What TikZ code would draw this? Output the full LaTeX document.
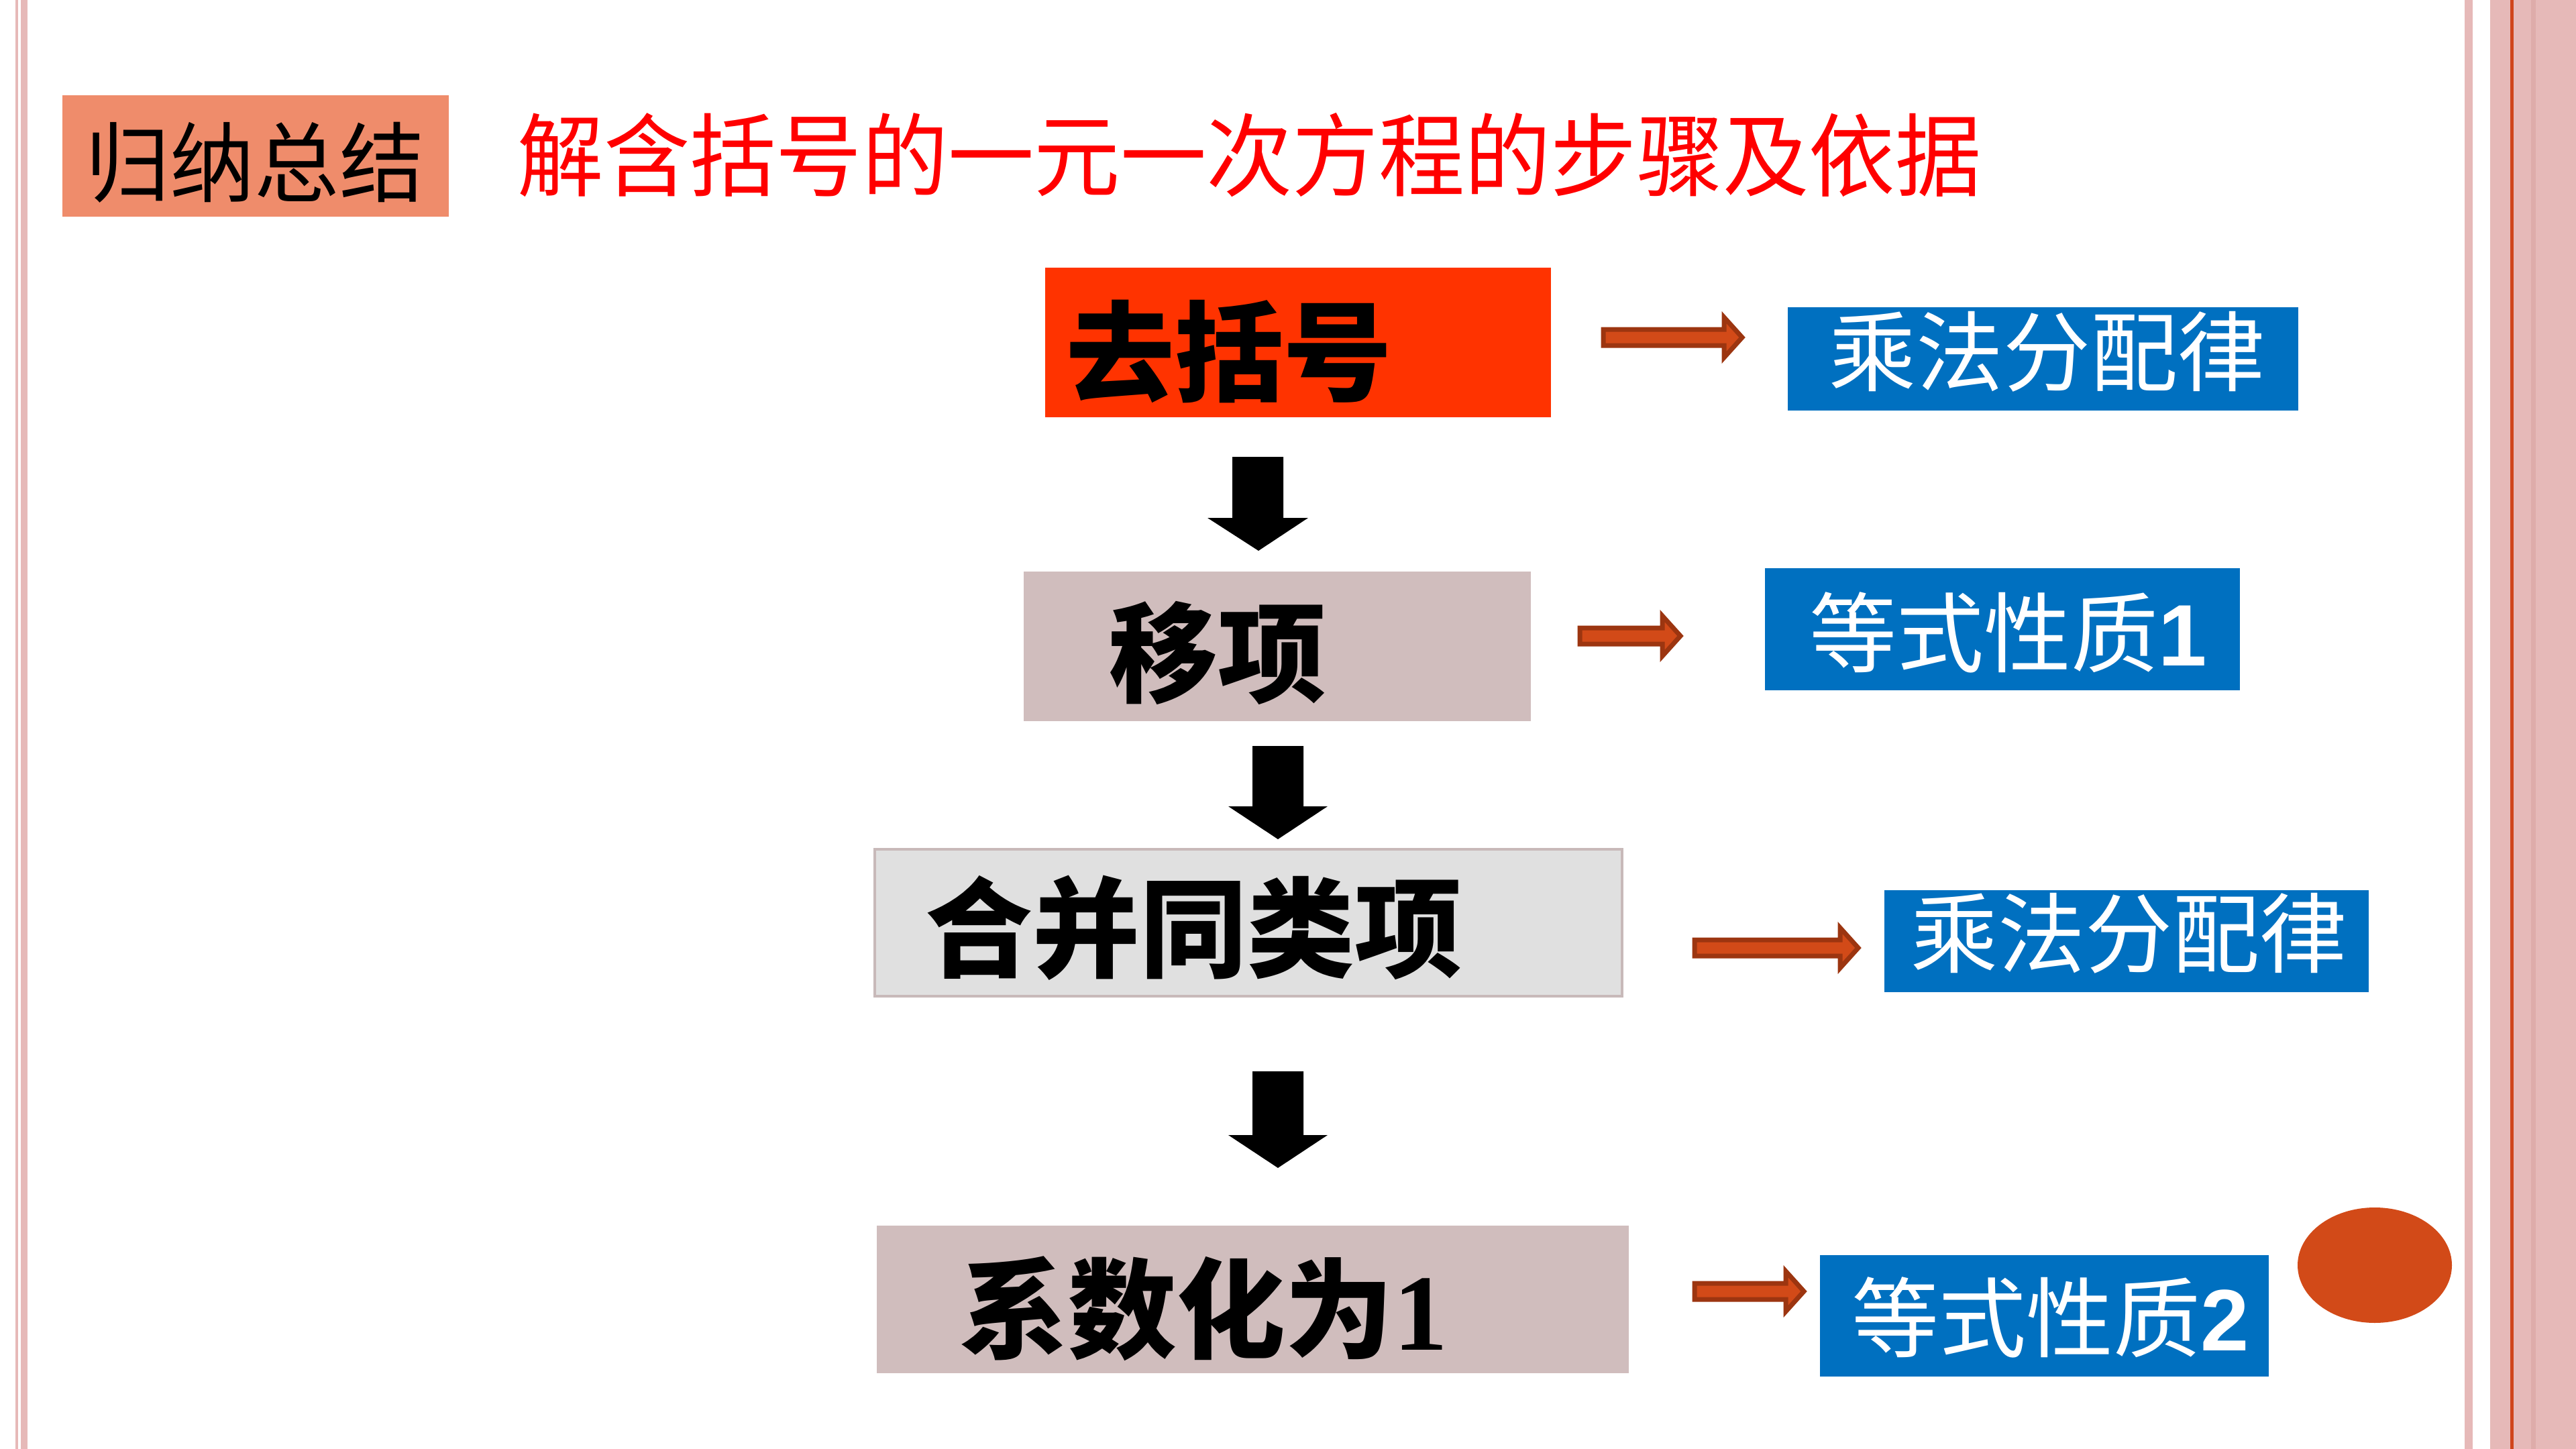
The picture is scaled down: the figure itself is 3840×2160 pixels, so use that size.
\documentclass[tikz,border=0pt]{standalone}
\usepackage{fontspec}
\usetikzlibrary{shapes.geometric}
\newfontfamily\cjk{Noto Sans CJK SC}
\newfontfamily\lsans{Liberation Sans}
\newfontfamily\lserif{Liberation Serif}
\definecolor{pinkb}{HTML}{E6B9B8}
\definecolor{pinkd}{HTML}{DEACAA}
\definecolor{redl}{HTML}{D0451B}
\definecolor{tagor}{HTML}{EF8C6B}
\definecolor{titlered}{HTML}{FF0000}
\definecolor{stepred}{HTML}{FF3300}
\definecolor{steprose}{HTML}{D0BDBD}
\definecolor{stepgray}{HTML}{E0E0E0}
\definecolor{stepgrayline}{HTML}{C8B9B9}
\definecolor{ruleblue}{HTML}{0070C0}
\definecolor{oarrowfill}{HTML}{D24A18}
\definecolor{oarrowline}{HTML}{9C3510}
\definecolor{dotc}{HTML}{D24A18}
\tikzset{
  boxnode/.style={rectangle, inner sep=0pt, outer sep=0pt},
  bigtext/.style={inner sep=0pt, anchor=west, font=\cjk\bfseries\fontsize{46}{46}\selectfont, text=black},
  ruletext/.style={inner sep=0pt, anchor=west, font=\cjk\fontsize{37}{37}\selectfont, text=white},
  oarrow/.style={fill=oarrowfill, draw=oarrowline, line width=0.7mm, miter limit=10},
  barrow/.style={fill=black}
}
\begin{document}
\begin{tikzpicture}[x=0.1mm,y=-0.1mm]
\useasboundingbox (0,0) rectangle (3840,2160);
\fill[white] (0,0) rectangle (3840,2160);
% page borders
\fill[pinkb] (23,0) rectangle (27,2160);
\fill[pinkb] (31,0) rectangle (41,2160);
\fill[pinkb] (3674,0) rectangle (3686,2160);
\fill[pinkb] (3712,0) rectangle (3840,2160);
\fill[pinkd] (3773,0) rectangle (3780,2160);
\fill[redl] (3742,0) rectangle (3747,2160);

% heading tag and title
\node[boxnode, fill=tagor, minimum width=57.6mm, minimum height=18.1mm] (tag) at (381,232.5) {};
\node[inner sep=0pt, anchor=west, xscale=0.97, font=\cjk\fontsize{37}{37}\selectfont] (tagtext) at (127,242) {归纳总结};
\node[inner sep=0pt, anchor=west, xscale=0.951, text=titlered, font=\cjk\fontsize{38.4}{38.4}\selectfont] (title) at (771,231) {解含括号的一元一次方程的步骤及依据};

% step boxes
\node[boxnode, fill=stepred, minimum width=75.4mm, minimum height=22.3mm] (b1) at (1935,510.5) {};
\node[bigtext] (t1) at (1589,524) {去括号};
\node[boxnode, fill=steprose, minimum width=75.6mm, minimum height=22.3mm] (b2) at (1904,963.5) {};
\node[bigtext] (t2) at (1653,973) {移项};
\node[boxnode, fill=stepgray, draw=stepgrayline, line width=0.4mm, minimum width=111.4mm, minimum height=21.9mm] (b3) at (1861,1375.5) {};
\node[bigtext, xscale=0.99] (t3) at (1379,1383) {合并同类项};
\node[boxnode, fill=steprose, minimum width=112.1mm, minimum height=22mm] (b4) at (1867.5,1937) {};
\node[bigtext] (t4) at (1430,1951) {系数化为{\lserif 1}};

% rule boxes
\node[boxnode, fill=ruleblue, minimum width=76.1mm, minimum height=15.4mm] (r1) at (3045.5,535) {};
\node[ruletext] (rt1) at (2726,524) {乘法分配律};
\node[boxnode, fill=ruleblue, minimum width=70.8mm, minimum height=18.2mm] (r2) at (2985,938) {};
\node[ruletext] (rt2) at (2697,943) {等式性质{\lsans\bfseries 1}};
\node[boxnode, fill=ruleblue, minimum width=72.2mm, minimum height=15.2mm] (r3) at (3170,1403) {};
\node[ruletext] (rt3) at (2848,1391) {乘法分配律};
\node[boxnode, fill=ruleblue, minimum width=66.9mm, minimum height=18.1mm] (r4) at (3047.5,1961.5) {};
\node[ruletext] (rt4) at (2760,1964) {等式性质{\lsans\bfseries 2}};

% black down arrows
\fill[barrow] (1837,681) -- (1913,681) -- (1913,772) -- (1950,772) -- (1876,821) -- (1800,772) -- (1837,772) -- cycle;
\fill[barrow] (1867,1112) -- (1943,1112) -- (1943,1202) -- (1979,1202) -- (1905,1251) -- (1831,1202) -- (1867,1202) -- cycle;
\fill[barrow] (1867,1597) -- (1943,1597) -- (1943,1692) -- (1979,1692) -- (1905,1741) -- (1831,1692) -- (1867,1692) -- cycle;

% orange right arrows
\draw[oarrow] (2390,491) -- (2570,491) -- (2570,473) -- (2597,503) -- (2570,533) -- (2570,515) -- (2390,515) -- cycle;
\draw[oarrow] (2355,936) -- (2478,936) -- (2478,918) -- (2505,948) -- (2478,978) -- (2478,960) -- (2355,960) -- cycle;
\draw[oarrow] (2526,1401) -- (2743,1401) -- (2743,1383) -- (2770,1413) -- (2743,1443) -- (2743,1425) -- (2526,1425) -- cycle;
\draw[oarrow] (2526,1913) -- (2662,1913) -- (2662,1895) -- (2689,1925) -- (2662,1955) -- (2662,1937) -- (2526,1937) -- cycle;

% decorative dot
\node[ellipse, fill=dotc, inner sep=0pt, minimum width=23mm, minimum height=17.2mm] (dot) at (3540,1886) {};
\end{tikzpicture}
\end{document}
